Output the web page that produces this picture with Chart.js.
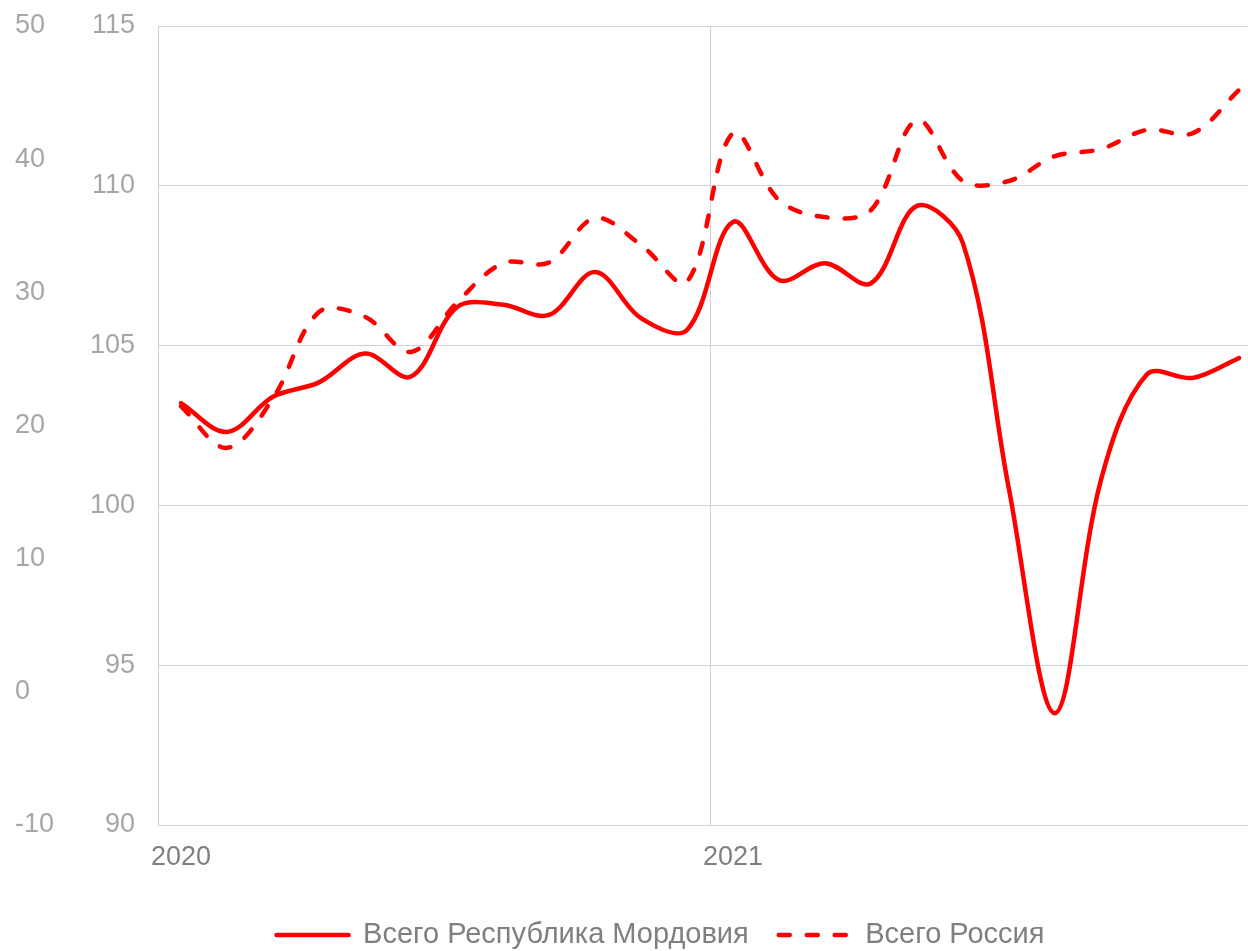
<!DOCTYPE html>
<html>
<head>
<meta charset="utf-8">
<script src="https://cdn.jsdelivr.net/npm/chart.js@4.4.0/dist/chart.umd.min.js"></script>
<style>
  html, body { margin: 0; padding: 0; background: #fff; overflow: hidden; }
  #wrap { position: absolute; left: 0; top: 0; width: 1248px; height: 951px; overflow: hidden; }
</style>
</head>
<body>
<div id="wrap"><canvas id="chart" width="1280" height="951"></canvas></div>
<script>
// месяцы 2020-2021
const months = [
  "01.2020", "02.2020", "03.2020", "04.2020", "05.2020", "06.2020",
  "07.2020", "08.2020", "09.2020", "10.2020", "11.2020", "12.2020",
  "01.2021", "02.2021", "03.2021", "04.2021", "05.2021", "06.2021",
  "07.2021", "08.2021", "09.2021", "10.2021", "11.2021", "12.2021"
];
const tickLabels = [
  "2020", "", "", "", "", "", "", "", "", "", "", "",
  "2021", "", "", "", "", "", "", "", "", "", "", ""
];

const mordovia = [
  103.2, 102.3, 103.4, 103.85, 104.75, 104.03, 106.2, 106.28, 105.96, 107.3, 105.86, 105.49,
  108.87, 107.05, 107.58, 106.95, 109.37, 108.2, 100.5, 93.5, 100.8, 104.1, 103.99, 104.61
];
const russia = [
  103.1, 101.8, 103.35, 106.05, 105.9, 104.8, 106.35, 107.58, 107.6, 108.99, 108.15, 107.0,
  111.65, 109.55, 109.02, 109.24, 112.05, 110.15, 110.15, 110.93, 111.15, 111.75, 111.65, 113.0
];

const fontFamily = "'Liberation Sans', Arial, sans-serif";
const gridColor = "#d0d0d0";

// сдвигаем легенду вправо, как в оригинале
const shiftLegend = {
  id: "shiftLegend",
  afterUpdate(chart) {
    chart.legend.left += 22;
    chart.legend.right += 22;
  }
};

new Chart(document.getElementById("chart").getContext("2d"), {
  type: "line",
  data: {
    labels: months,
    datasets: [
      {
        label: "Всего Республика Мордовия",
        data: mordovia,
        borderColor: "#ff0000",
        backgroundColor: "#ff0000",
        borderWidth: 4.5,
        tension: 0.35,
        pointRadius: 0,
        pointStyle: "line",
        borderJoinStyle: "round",
        borderCapStyle: "round",
        yAxisID: "y"
      },
      {
        label: "Всего Россия",
        data: russia,
        borderColor: "#ff0000",
        backgroundColor: "#ff0000",
        borderWidth: 4.5,
        borderDash: [11, 17],
        tension: 0.35,
        pointRadius: 0,
        pointStyle: "line",
        borderJoinStyle: "round",
        borderCapStyle: "round",
        yAxisID: "y"
      }
    ]
  },
  options: {
    responsive: false,
    animation: false,
    layout: { padding: { left: 15, right: 18, top: 26, bottom: -8.5 } },
    plugins: {
      tooltip: { enabled: false },
      legend: {
        position: "bottom",
        labels: {
          usePointStyle: true,
          pointStyleWidth: 72,
          padding: 30,
          color: "#7f7f7f",
          font: { family: fontFamily, size: 29 },
          generateLabels: chart => {
            const items = Chart.defaults.plugins.legend.labels.generateLabels(chart);
            items.forEach(item => {
              const ds = chart.data.datasets[item.datasetIndex];
              item.lineDash = ds.borderDash || [];
              item.lineWidth = ds.borderWidth;
              item.lineCap = "round";
              item.strokeStyle = ds.borderColor;
            });
            return items;
          }
        }
      }
    },
    scales: {
      x: {
        offset: true,
        grid: {
          offset: true,
          drawTicks: false,
          color: ctx => (ctx.index === 12 ? gridColor : "rgba(0,0,0,0)")
        },
        border: { display: false },
        ticks: {
          autoSkip: false,
          maxRotation: 0,
          padding: 16,
          color: "#7f7f7f",
          font: { family: fontFamily, size: 27 },
          callback: (v, i) => tickLabels[i]
        },
        afterFit: s => { s.height = 65.5; }
      },
      y: {
        position: "left",
        weight: 0,
        min: 90,
        max: 115,
        ticks: {
          stepSize: 5,
          padding: 23,
          color: "#a6a6a6",
          font: { family: fontFamily, size: 27 }
        },
        grid: { color: gridColor, drawTicks: false },
        border: { display: true, color: gridColor },
        afterFit: s => { s.width = 83; s.paddingTop = 10; s.paddingBottom = 10; }
      },
      y2: {
        position: "left",
        weight: 1,
        min: -10,
        max: 50,
        ticks: {
          stepSize: 10,
          crossAlign: "far",
          color: "#a6a6a6",
          font: { family: fontFamily, size: 27 }
        },
        grid: { display: false },
        border: { display: false },
        afterFit: s => { s.width = 60; s.paddingTop = 10; s.paddingBottom = 10; }
      }
    }
  },
  plugins: [shiftLegend]
});
</script>
</body>
</html>
